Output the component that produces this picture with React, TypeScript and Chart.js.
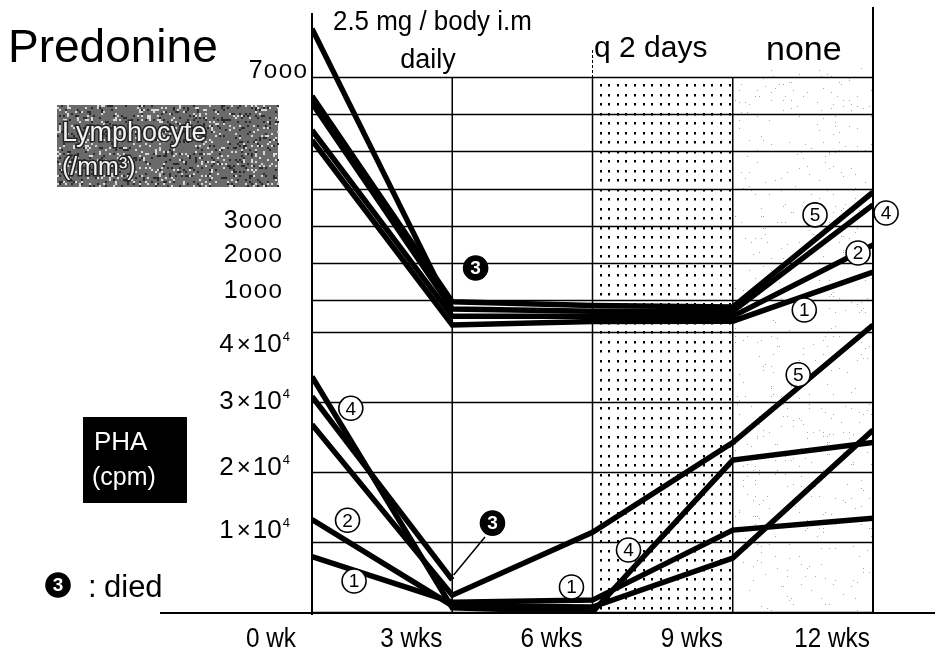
import React, { useEffect, useRef } from 'react';
import { Chart, registerables } from 'chart.js';

Chart.register(...registerables);

// ---------- data ----------
const weeks = [0, 3, 6, 9, 12];
const weekLabels = ['0 wk', '3 wks', '6 wks', '9 wks', '12 wks'];

const lymphGridValues = [7000, 6000, 5000, 4000, 3000, 2000, 1000];
const lymphTickValues = [7000, 3000, 2000, 1000];
const phaGridValues = [0, 10000, 20000, 30000, 40000];
const phaTickValues = [40000, 30000, 20000, 10000];
const phaTickMantissa = ['4', '3', '2', '1'];

// Lymphocyte (/mm3), patients 1..5 (3 died after 3 wks)
const lymph1 = [5300, 330, 420, 430, 1750];
const lymph2 = [5570, 560, 560, 560, 2480];
const lymph3 = [8300, 700, null, null, null];
const lymph4 = [6300, 760, 700, 700, 3560];
const lymph5 = [6490, 950, 850, 810, 3900];

// PHA (cpm)
const pha1 = [7900, 1400, 1700, 11700, 13400];
const pha2 = [13200, 900, 700, 7700, 26000];
const pha3 = [30800, 4600, null, null, null];
const pha4 = [33600, 600, 0, 21700, 24200];
const pha5 = [26800, 2400, 11400, 24200, 41000];

// ---------- layout ----------
const W = 935;
const H = 658;
const AREA = { left: 312, right: 873, top: 7, bottom: 612 };
const LYMPH_ANCHOR = { v1: 7000, p1: 77, v2: 1000, p2: 300 };
const PHA_ANCHOR = { v1: 40000, p1: 332, v2: 0, p2: 612 };

function rangeFrom(a: { v1: number; p1: number; v2: number; p2: number }) {
  const perPx = (a.v1 - a.v2) / (a.p2 - a.p1);
  return {
    max: a.v1 + (a.p1 - AREA.top) * perPx,
    min: a.v2 - (AREA.bottom - a.p2) * perPx,
  };
}

// circled number annotations: [text, week, value, filled]
const lymphMarks: [string, number, number, boolean][] = [
  ['5', 10.76, 3290, false],
  ['4', 12.28, 3340, false],
  ['2', 11.68, 2265, false],
  ['1', 10.53, 730, false],
  ['3', 3.5, 1860, true],
];
const phaMarks: [string, number, number, boolean][] = [
  ['4', 0.83, 29100, false],
  ['2', 0.76, 13100, false],
  ['1', 0.9, 4430, false],
  ['3', 3.86, 12700, true],
  ['1', 5.55, 3570, false],
  ['4', 6.77, 8860, false],
  ['5', 10.4, 33900, false],
];
const diedLeader = { from: [3.7, 10700], to: [3.03, 5300] };

const lymphLabelDy = [1, 2, -1, -2];
const phaLabelDy = [20, 7, 3, -4];

const SANS = '"Liberation Sans", Arial, Helvetica, sans-serif';

function hash(i: number, j: number) {
  let h = (i * 374761393 + j * 668265263) | 0;
  h = Math.imul(h ^ (h >>> 13), 1274126177);
  return ((h ^ (h >>> 16)) >>> 0) / 4294967296;
}

type Seg = { t: string; size: number; dy?: number; sx?: number; gap?: number };

function drawSegs(ctx: CanvasRenderingContext2D, segs: Seg[], xRight: number, baseline: number) {
  const widths = segs.map((s) => {
    ctx.font = `${s.size}px ${SANS}`;
    return ctx.measureText(s.t).width * (s.sx || 1) + (s.gap || 0);
  });
  let xx = xRight - widths.reduce((a, b) => a + b, 0);
  segs.forEach((s, i) => {
    ctx.save();
    ctx.font = `${s.size}px ${SANS}`;
    ctx.textAlign = 'left';
    ctx.textBaseline = 'alphabetic';
    ctx.translate(xx, baseline + (s.dy || 0));
    ctx.scale(s.sx || 1, 1);
    ctx.fillText(s.t, 0, 0);
    ctx.restore();
    xx += widths[i];
  });
}

function circleMark(ctx: CanvasRenderingContext2D, cx: number, cy: number, t: string, filled: boolean) {
  ctx.save();
  ctx.beginPath();
  ctx.arc(cx, cy, 12, 0, Math.PI * 2);
  ctx.fillStyle = filled ? '#000' : '#fff';
  ctx.fill();
  ctx.lineWidth = 1.6;
  ctx.strokeStyle = '#000';
  ctx.stroke();
  ctx.fillStyle = filled ? '#fff' : '#000';
  ctx.font = `${filled ? 'bold ' : ''}19px ${SANS}`;
  ctx.textAlign = 'center';
  ctx.textBaseline = 'middle';
  ctx.fillText(t, cx, cy + 1);
  ctx.restore();
}

function text(ctx: CanvasRenderingContext2D, t: string, x: number, y: number, size: number, align: CanvasTextAlign = 'left', color = '#000', sx = 1) {
  ctx.save();
  ctx.font = `${size}px ${SANS}`;
  ctx.fillStyle = color;
  ctx.textAlign = align;
  ctx.textBaseline = 'alphabetic';
  ctx.translate(x, y);
  ctx.scale(sx, 1);
  ctx.fillText(t, 0, 0);
  ctx.restore();
}

const decorPlugin = {
  id: 'decor',
  beforeDraw(chart: any) {
    const ctx = chart.ctx as CanvasRenderingContext2D;
    ctx.save();
    ctx.fillStyle = '#fff';
    ctx.fillRect(0, 0, chart.width, chart.height);
    ctx.restore();
  },
  beforeDatasetsDraw(chart: any) {
    const ctx = chart.ctx as CanvasRenderingContext2D;
    const x = chart.scales.x;
    const yL = chart.scales.yL;
    const yP = chart.scales.yP;
    const x0 = x.getPixelForValue(weeks[0]);
    const x3 = x.getPixelForValue(weeks[1]);
    const x6 = x.getPixelForValue(weeks[2]);
    const x9 = x.getPixelForValue(weeks[3]);
    const x12 = x.getPixelForValue(weeks[4]);
    const top = yL.getPixelForValue(lymphGridValues[0]);
    const bottom = yP.getPixelForValue(0);
    ctx.save();

    // speckle in "none" region
    ctx.fillStyle = '#a8a8a8';
    for (let i = Math.ceil(x9) + 2; i < x12 - 1; i += 2) {
      for (let j = Math.ceil(top) - 10; j < bottom; j += 2) {
        if (hash(i, j) < 0.03) ctx.fillRect(i, j, 1, 1);
      }
    }
    // dotted "q 2 days" region
    ctx.fillStyle = '#000';
    for (let i = x6 + 7; i < x9 - 3; i += 8.6) {
      for (let j = top + 7; j < bottom - 3; j += 9.5) {
        ctx.fillRect(Math.round(i), Math.round(j), 2, 2.5);
      }
    }

    // horizontal grid
    ctx.strokeStyle = '#000';
    ctx.lineWidth = 1.5;
    ctx.beginPath();
    lymphGridValues.forEach((v) => {
      const p = Math.round(yL.getPixelForValue(v)) + 0.5;
      ctx.moveTo(x0, p);
      ctx.lineTo(x12, p);
    });
    phaGridValues.forEach((v) => {
      const p = Math.round(yP.getPixelForValue(v)) + 0.5;
      ctx.moveTo(x0, p);
      ctx.lineTo(x12, p);
    });
    ctx.stroke();

    // vertical lines
    ctx.lineWidth = 2;
    ctx.beginPath();
    ctx.moveTo(x0, 13);
    ctx.lineTo(x0, bottom + 3);
    ctx.moveTo(x12, 7);
    ctx.lineTo(x12, bottom);
    ctx.stroke();
    ctx.lineWidth = 1.5;
    ctx.beginPath();
    ctx.moveTo(x3, top);
    ctx.lineTo(x3, bottom);
    ctx.moveTo(x6, top);
    ctx.lineTo(x6, bottom);
    ctx.moveTo(x9, top);
    ctx.lineTo(x9, bottom);
    ctx.stroke();
    ctx.lineWidth = 1;
    ctx.setLineDash([3, 2]);
    ctx.beginPath();
    ctx.moveTo(x6, 50);
    ctx.lineTo(x6, top);
    ctx.stroke();
    ctx.setLineDash([]);

    // bottom axis line
    ctx.lineWidth = 2;
    ctx.beginPath();
    ctx.moveTo(160, bottom + 1);
    ctx.lineTo(W, bottom + 1);
    ctx.stroke();
    ctx.restore();
  },
  afterDatasetsDraw(chart: any) {
    const ctx = chart.ctx as CanvasRenderingContext2D;
    const x = chart.scales.x;
    const yL = chart.scales.yL;
    const yP = chart.scales.yP;
    ctx.save();
    ctx.fillStyle = '#000';

    // leader for died patient (PHA)
    ctx.strokeStyle = '#000';
    ctx.lineWidth = 1.5;
    ctx.beginPath();
    ctx.moveTo(x.getPixelForValue(diedLeader.from[0]), yP.getPixelForValue(diedLeader.from[1]));
    ctx.lineTo(x.getPixelForValue(diedLeader.to[0]), yP.getPixelForValue(diedLeader.to[1]));
    ctx.stroke();

    lymphMarks.forEach(([t, w, v, f]) => circleMark(ctx, x.getPixelForValue(w), yL.getPixelForValue(v), t, f));
    phaMarks.forEach(([t, w, v, f]) => circleMark(ctx, x.getPixelForValue(w), yP.getPixelForValue(v), t, f));

    // y tick labels - lymphocyte
    lymphTickValues.forEach((v, i) => {
      const s = String(v);
      const p = yL.getPixelForValue(v);
      const right = i === 0 ? 307 : 282;
      const base = i === 0 ? p + 1 : p + lymphLabelDy[i];
      drawSegs(
        ctx,
        [
          { t: s[0], size: 25, gap: 1 },
          { t: s[1], size: 21, sx: 1.15, gap: 1.5 },
          { t: s[2], size: 21, sx: 1.15, gap: 1.5 },
          { t: s[3], size: 21, sx: 1.15 },
        ],
        right,
        base
      );
    });
    // y tick labels - PHA
    phaTickValues.forEach((v, i) => {
      const p = yP.getPixelForValue(v);
      drawSegs(
        ctx,
        [
          { t: phaTickMantissa[i], size: 26, gap: 3 },
          { t: '×', size: 24, gap: 2 },
          { t: '1', size: 26, gap: 0 },
          { t: '0', size: 26, gap: 1 },
          { t: '4', size: 13, dy: -11 },
        ],
        290,
        p + phaLabelDy[i]
      );
    });

    // x tick labels
    weeks.forEach((w, i) => {
      text(ctx, weekLabels[i], x.getPixelForValue(w) - 41, 647, 27, 'center', '#000', 0.9);
    });

    // titles & annotations
    text(ctx, 'Predonine', 8, 62, 46);
    text(ctx, '2.5 mg / body i.m', 333, 30, 27, 'left', '#000', 0.96);
    text(ctx, 'daily', 428, 68, 27, 'center');
    text(ctx, 'q 2 days', 594, 57, 30);
    text(ctx, 'none', 766, 60, 34);

    // Lymphocyte box
    const bx = 57, by = 105, bw = 221, bh = 82;
    ctx.fillStyle = '#6a6a6a';
    ctx.fillRect(bx, by, bw, bh);
    for (let i = bx; i < bx + bw; i += 2) {
      for (let j = by; j < by + bh; j += 2) {
        const h = hash(i, j);
        if (h < 0.22) {
          ctx.fillStyle = h < 0.11 ? '#d8d8d8' : '#2a2a2a';
          ctx.fillRect(i, j, 2, 2);
        }
      }
    }
    ctx.save();
    ctx.font = `27px ${SANS}`;
    ctx.lineWidth = 3;
    ctx.strokeStyle = '#222';
    ctx.fillStyle = '#f2f2f2';
    ctx.strokeText('Lymphocyte', 62, 141);
    ctx.fillText('Lymphocyte', 62, 141);
    ctx.font = `25px ${SANS}`;
    ctx.strokeText('(/mm³)', 62, 175);
    ctx.fillText('(/mm³)', 62, 175);
    ctx.restore();

    // PHA box
    ctx.fillStyle = '#000';
    ctx.fillRect(83, 417, 104, 86);
    text(ctx, 'PHA', 94, 450, 26, 'left', '#fff');
    text(ctx, '(cpm)', 92, 485, 25, 'left', '#fff');

    // died legend
    circleMark(ctx, 58, 585, '3', true);
    text(ctx, ':', 88, 597, 31);
    text(ctx, 'died', 104, 597, 31);

    ctx.restore();
  },
};

function mkData(arr: (number | null)[]) {
  return weeks.map((w, i) => ({ x: w, y: arr[i] }));
}

export default function App() {
  const ref = useRef<HTMLCanvasElement | null>(null);
  useEffect(() => {
    if (!ref.current) return;
    const lr = rangeFrom(LYMPH_ANCHOR);
    const pr = rangeFrom(PHA_ANCHOR);
    const line = (label: string, arr: (number | null)[], axis: string) => ({
      label,
      data: mkData(arr),
      yAxisID: axis,
      borderColor: '#000',
      backgroundColor: '#000',
      borderWidth: 5.5,
      pointRadius: 0,
      tension: 0,
      spanGaps: false,
      fill: false,
    });
    const chart = new Chart(ref.current, {
      type: 'line',
      data: {
        datasets: [
          line('Lymph 1', lymph1, 'yL'),
          line('Lymph 2', lymph2, 'yL'),
          line('Lymph 3', lymph3, 'yL'),
          line('Lymph 4', lymph4, 'yL'),
          line('Lymph 5', lymph5, 'yL'),
          line('PHA 1', pha1, 'yP'),
          line('PHA 2', pha2, 'yP'),
          line('PHA 3', pha3, 'yP'),
          line('PHA 4', pha4, 'yP'),
          line('PHA 5', pha5, 'yP'),
        ],
      },
      options: {
        responsive: false,
        maintainAspectRatio: false,
        animation: false,
        layout: {
          padding: { left: AREA.left, right: W - AREA.right, top: AREA.top, bottom: H - AREA.bottom },
        },
        plugins: { legend: { display: false }, tooltip: { enabled: false } },
        scales: {
          x: { type: 'linear', min: 0, max: 12, display: false },
          yL: { type: 'linear', min: lr.min, max: lr.max, display: false },
          yP: { type: 'linear', min: pr.min, max: pr.max, display: false },
        },
      },
      plugins: [decorPlugin],
    } as any);
    return () => chart.destroy();
  }, []);
  return (
    <div style={{ position: 'fixed', left: 0, top: 0, width: W, height: H, background: '#fff' }}>
      <canvas ref={ref} width={W} height={H} style={{ display: 'block', width: W, height: H }} />
    </div>
  );
}
